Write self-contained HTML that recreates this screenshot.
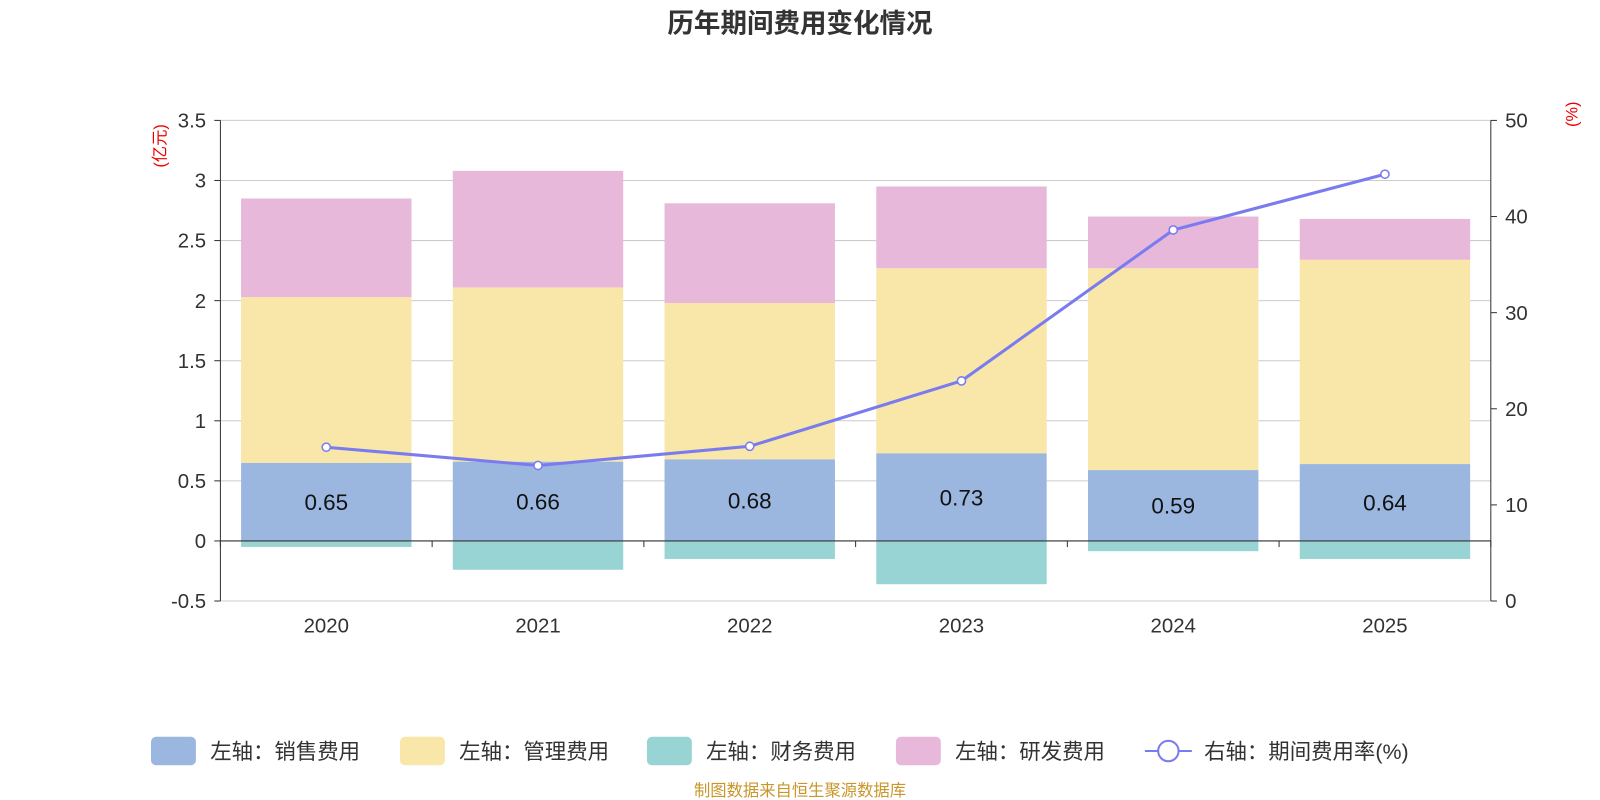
<!DOCTYPE html>
<html><head><meta charset="utf-8"><style>
body{margin:0;background:#fff;}
svg{display:block;}
svg text{font-family:"Liberation Sans","Noto Sans CJK SC",sans-serif;}
</style></head><body>
<svg id="chart" width="1600" height="800" viewBox="0 0 1568 784" xmlns="http://www.w3.org/2000/svg">
<text x="784" y="32" text-anchor="middle" font-size="26" font-weight="bold" fill="#333">历年期间费用变化情况</text>
<text transform="translate(162,143) rotate(-90)" text-anchor="middle" font-size="16" fill="#e00">(亿元)</text>
<text transform="translate(1546,112) rotate(-90)" text-anchor="middle" font-size="16" fill="#e00">(%)</text>
<g id="grid"></g><g id="bars"></g><g id="axes"></g><g id="line"></g>
<g id="legend"></g>
<text x="784" y="780" text-anchor="middle" font-size="16" fill="#c8962a">制图数据来自恒生聚源数据库</text>
</svg>
<script>
const categories=['2020','2021','2022','2023','2024','2025'];
const sales=[0.65,0.66,0.68,0.73,0.59,0.64];
const admin=[1.38,1.45,1.30,1.54,1.68,1.70];
const finance=[-0.05,-0.24,-0.15,-0.36,-0.085,-0.15];
const rnd=[0.82,0.97,0.83,0.68,0.43,0.34];
const rate=[16.0,14.1,16.1,22.9,38.6,44.4];
const leftTicks=[-0.5,0,0.5,1,1.5,2,2.5,3,3.5];
const rightTicks=[0,10,20,30,40,50];
const NS='http://www.w3.org/2000/svg';
const X0=216,X1=1461,YT=118,YB=589;
const yL=v=>YB-(v+0.5)/4*(YB-YT);
const yR=v=>YB-v/50*(YB-YT);
const band=(X1-X0)/categories.length;
const xC=i=>X0+band*(i+0.5);
function mk(p,tag,a){const e=document.createElementNS(NS,tag);for(const k in a)e.setAttribute(k,a[k]);document.getElementById(p).appendChild(e);return e;}
leftTicks.forEach(t=>{
 const g=mk('grid','line',{x1:X0,x2:X1,y1:yL(t),y2:yL(t),stroke:'#ccc','stroke-width':1});
 
 
 const l=mk('axes','text',{x:X0-14,y:yL(t)+7,'text-anchor':'end','font-size':20,fill:'#333'});l.textContent=t;
 
 
 const tk=mk('axes','line',{x1:X0-6,x2:X0,y1:yL(t),y2:yL(t),stroke:'#333'});
 
 
});
rightTicks.forEach(t=>{
 const l=mk('axes','text',{x:X1+14,y:yR(t)+7,'font-size':20,fill:'#333'});l.textContent=t;
 
 
 const tk=mk('axes','line',{x1:X1,x2:X1+6,y1:yR(t),y2:yR(t),stroke:'#333'});
 
 
});
const bw=167;
categories.forEach((c,i)=>{
 const x=xC(i)-bw/2;
 const segs=[[0,sales[i],'#9bb7e0','bar-sales'],[sales[i],sales[i]+admin[i],'#f8e7a8','bar-admin'],[sales[i]+admin[i],sales[i]+admin[i]+rnd[i],'#e7b8d9','bar-rnd'],[finance[i],0,'#98d4d4','bar-finance']];
 segs.forEach(s=>{
  const r=mk('bars','rect',{x:x,y:yL(s[1]),width:bw,height:yL(s[0])-yL(s[1]),fill:s[2]});
  
  
 });
 const lb=mk('bars','text',{x:xC(i),y:yL(sales[i]/2)+8,'text-anchor':'middle','font-size':22,fill:'#111'});lb.textContent=sales[i].toFixed(2);
 
 
 const xl=mk('axes','text',{x:xC(i),y:620,'text-anchor':'middle','font-size':20,fill:'#333'});xl.textContent=c;
 
 
});
const ax=mk('axes','line',{x1:X0,x2:X1,y1:yL(0),y2:yL(0),stroke:'#333'});


for(let i=0;i<=categories.length;i++){
 const tk=mk('axes','line',{x1:X0+band*i,x2:X0+band*i,y1:yL(0),y2:yL(0)+6,stroke:'#333'});
 
 
}
const la=mk('axes','line',{x1:X0,x2:X0,y1:YT,y2:YB,stroke:'#333'});


const ra=mk('axes','line',{x1:X1,x2:X1,y1:YT,y2:YB,stroke:'#333'});


const pl=mk('line','polyline',{points:rate.map((v,i)=>xC(i)+','+yR(v)).join(' '),fill:'none',stroke:'#7b7bf0','stroke-width':3});


rate.forEach((v,i)=>{
 const p=mk('line','circle',{cx:xC(i),cy:yR(v),r:4,fill:'#fff',stroke:'#7b7bf0','stroke-width':1.5});
 
 
});
const leg=[['左轴：销售费用','#9bb7e0',148],['左轴：管理费用','#f8e7a8',392],['左轴：财务费用','#98d4d4',634],['左轴：研发费用','#e7b8d9',878]];
leg.forEach(l=>{
 const r=mk('legend','rect',{x:l[2],y:722,width:44,height:28,rx:5,fill:l[1]});
 
 
 const t=mk('legend','text',{x:l[2]+58,y:744,'font-size':21,fill:'#333'});t.textContent=l[0];
 
 
});
const ll=mk('legend','line',{x1:1122,x2:1168,y1:736,y2:736,stroke:'#7b7bf0','stroke-width':2});


const lc=mk('legend','circle',{cx:1145,cy:736,r:10,fill:'#fff',stroke:'#7b7bf0','stroke-width':2});


const lt=mk('legend','text',{x:1180,y:744,'font-size':21,fill:'#333'});lt.textContent='右轴：期间费用率(%)';


</script>
</body></html>
